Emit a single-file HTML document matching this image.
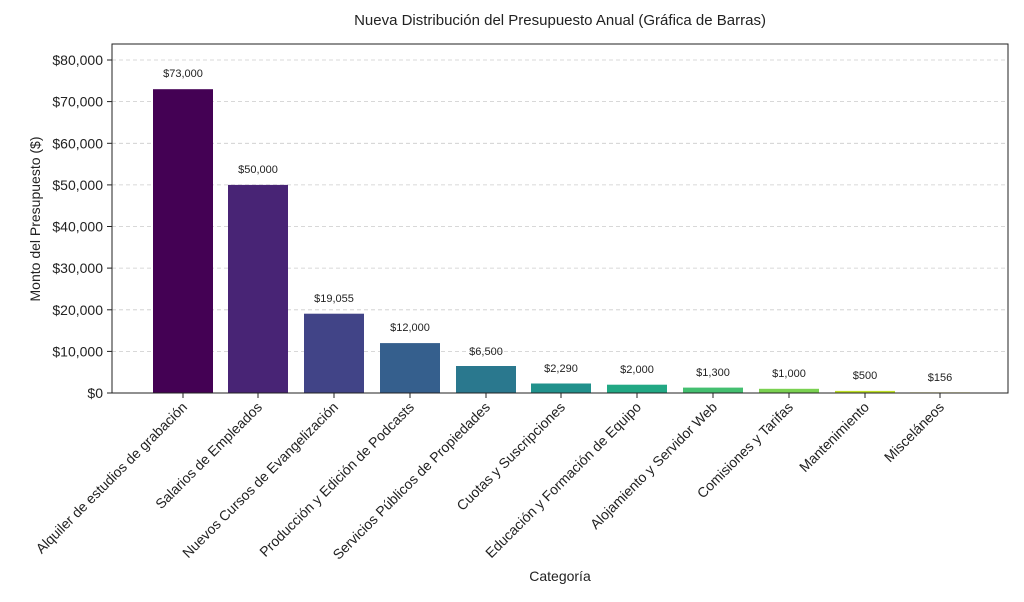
<!DOCTYPE html>
<html><head><meta charset="utf-8"><style>
body{margin:0;background:#fff;}
svg text{font-family:"Liberation Sans",sans-serif;fill:#222;}
</style></head><body>
<svg width="1024" height="597" xmlns="http://www.w3.org/2000/svg">
<rect width="1024" height="597" fill="#fff"/>
<text x="560" y="25" font-size="15" text-anchor="middle">Nueva Distribución del Presupuesto Anual (Gráfica de Barras)</text>
<g stroke="#ccc" stroke-dasharray="4,3" stroke-width="0.8">
<line x1="112" x2="1008" y1="351.4" y2="351.4"/>
<line x1="112" x2="1008" y1="309.8" y2="309.8"/>
<line x1="112" x2="1008" y1="268.1" y2="268.1"/>
<line x1="112" x2="1008" y1="226.5" y2="226.5"/>
<line x1="112" x2="1008" y1="184.9" y2="184.9"/>
<line x1="112" x2="1008" y1="143.3" y2="143.3"/>
<line x1="112" x2="1008" y1="101.6" y2="101.6"/>
<line x1="112" x2="1008" y1="60" y2="60"/>
</g>
<g>
<rect x="153" y="89.2" width="60" height="303.8" fill="#440154"/>
<rect x="228" y="184.9" width="60" height="208.1" fill="#482475"/>
<rect x="304" y="313.7" width="60" height="79.3" fill="#414487"/>
<rect x="380" y="343.1" width="60" height="49.9" fill="#355f8d"/>
<rect x="456" y="366" width="60" height="27" fill="#2a788e"/>
<rect x="531" y="383.5" width="60" height="9.5" fill="#21918c"/>
<rect x="607" y="384.7" width="60" height="8.3" fill="#22a884"/>
<rect x="683" y="387.6" width="60" height="5.4" fill="#44bf70"/>
<rect x="759" y="388.8" width="60" height="4.2" fill="#7ad151"/>
<rect x="835" y="390.9" width="60" height="2.1" fill="#bddf26"/>
<rect x="910" y="392.4" width="60" height="0.6" fill="#fde725"/>
</g>
<g font-size="11" text-anchor="middle">
<text x="183" y="77">$73,000</text>
<text x="258" y="173">$50,000</text>
<text x="334" y="302">$19,055</text>
<text x="410" y="331">$12,000</text>
<text x="486" y="355">$6,500</text>
<text x="561" y="372">$2,290</text>
<text x="637" y="373">$2,000</text>
<text x="713" y="376">$1,300</text>
<text x="789" y="377">$1,000</text>
<text x="865" y="379">$500</text>
<text x="940" y="381">$156</text>
</g>
<rect x="112" y="44" width="896" height="349" fill="none" stroke="#222" stroke-width="1"/>
<g stroke="#222">
<line x1="107" x2="112" y1="393" y2="393"/><line x1="107" x2="112" y1="351.4" y2="351.4"/>
<line x1="107" x2="112" y1="309.8" y2="309.8"/><line x1="107" x2="112" y1="268.1" y2="268.1"/>
<line x1="107" x2="112" y1="226.5" y2="226.5"/><line x1="107" x2="112" y1="184.9" y2="184.9"/>
<line x1="107" x2="112" y1="143.3" y2="143.3"/><line x1="107" x2="112" y1="101.6" y2="101.6"/>
<line x1="107" x2="112" y1="60" y2="60"/>
<line x1="183" x2="183" y1="393" y2="398"/><line x1="258" x2="258" y1="393" y2="398"/>
<line x1="334" x2="334" y1="393" y2="398"/><line x1="410" x2="410" y1="393" y2="398"/>
<line x1="486" x2="486" y1="393" y2="398"/><line x1="561" x2="561" y1="393" y2="398"/>
<line x1="637" x2="637" y1="393" y2="398"/><line x1="713" x2="713" y1="393" y2="398"/>
<line x1="789" x2="789" y1="393" y2="398"/><line x1="865" x2="865" y1="393" y2="398"/>
<line x1="940" x2="940" y1="393" y2="398"/>
</g>
<g font-size="14" text-anchor="end">
<text x="103" y="398">$0</text><text x="103" y="356.4">$10,000</text>
<text x="103" y="314.8">$20,000</text><text x="103" y="273.1">$30,000</text>
<text x="103" y="231.5">$40,000</text><text x="103" y="189.9">$50,000</text>
<text x="103" y="148.3">$60,000</text><text x="103" y="106.6">$70,000</text>
<text x="103" y="65">$80,000</text>
</g>
<g font-size="14" text-anchor="end">
<text transform="translate(188,408) rotate(-45)">Alquiler de estudios de grabación</text>
<text transform="translate(263,408) rotate(-45)">Salarios de Empleados</text>
<text transform="translate(339,408) rotate(-45)">Nuevos Cursos de Evangelización</text>
<text transform="translate(415,408) rotate(-45)">Producción y Edición de Podcasts</text>
<text transform="translate(491,408) rotate(-45)">Servicios Públicos de Propiedades</text>
<text transform="translate(566,408) rotate(-45)">Cuotas y Suscripciones</text>
<text transform="translate(642,408) rotate(-45)">Educación y Formación de Equipo</text>
<text transform="translate(718,408) rotate(-45)">Alojamiento y Servidor Web</text>
<text transform="translate(794,408) rotate(-45)">Comisiones y Tarifas</text>
<text transform="translate(870,408) rotate(-45)">Mantenimiento</text>
<text transform="translate(945,408) rotate(-45)">Misceláneos</text>
</g>
<text x="560" y="581" font-size="14" text-anchor="middle">Categoría</text>
<text transform="translate(40,219) rotate(-90)" font-size="14" text-anchor="middle">Monto del Presupuesto ($)</text>
</svg>
</body></html>
